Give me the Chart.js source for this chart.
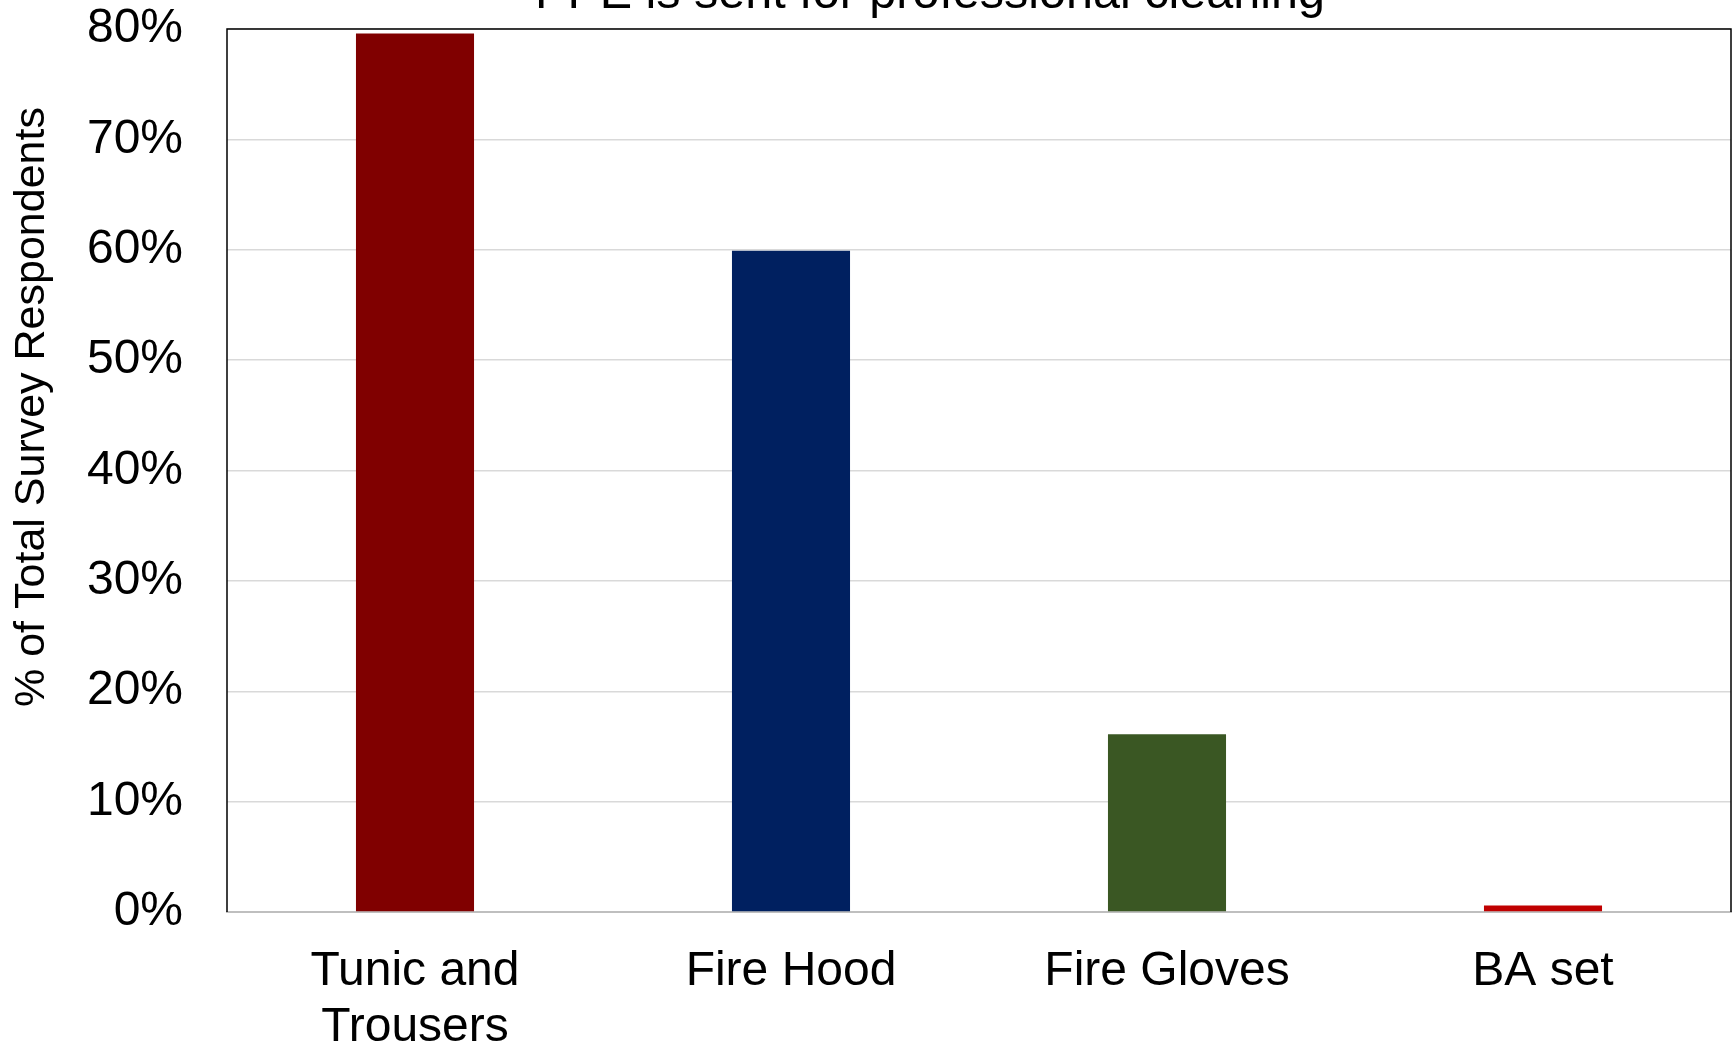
<!DOCTYPE html>
<html>
<head>
<meta charset="utf-8">
<title>PPE is sent for professional cleaning</title>
<script src="https://cdn.jsdelivr.net/npm/chart.js@4/dist/chart.umd.min.js"></script>
<style>
  html, body { margin: 0; padding: 0; background: #ffffff; }
  #wrap { width: 1736px; height: 1044px; }
</style>
</head>
<body>
<div id="wrap"><canvas id="chart" width="1736" height="1044"></canvas></div>
<script>
// Share of respondents whose PPE item is sent for professional cleaning
const categories = [["Tunic and", "Trousers"], "Fire Hood", "Fire Gloves", "BA set"];
const percentValues = [79.6, 59.9, 16.1, 0.6];
const barColors = ["#800000", "#002060", "#3A5723", "#C00000"];
const yTickValues = [0, 10, 20, 30, 40, 50, 60, 70, 80];

const chartTitle = "PPE is sent for professional cleaning";
const yAxisTitle = "% of Total Survey Respondents";
const FONT = "'Liberation Sans', Arial, Helvetica, sans-serif";

// Title, rotated axis title and the black frame around the plot
const decorations = {
  id: "decorations",
  afterDraw(chart) {
    const { ctx, chartArea: a } = chart;
    ctx.save();
    ctx.fillStyle = "#000000";
    ctx.font = "48.5px " + FONT;
    ctx.textAlign = "center";
    ctx.textBaseline = "alphabetic";
    ctx.fillText(chartTitle, 930, 8);

    ctx.save();
    ctx.translate(32, 407);
    ctx.rotate(-Math.PI / 2);
    ctx.font = "43px " + FONT;
    ctx.textBaseline = "middle";
    ctx.fillText(yAxisTitle, 0, 0);
    ctx.restore();

    ctx.strokeStyle = "#000000";
    ctx.lineWidth = 1.5;
    ctx.beginPath();
    ctx.moveTo(a.left, a.bottom);
    ctx.lineTo(a.left, a.top);
    ctx.lineTo(a.right, a.top);
    ctx.lineTo(a.right, a.bottom);
    ctx.stroke();
    ctx.restore();
  }
};

new Chart(document.getElementById("chart"), {
  type: "bar",
  data: {
    labels: categories,
    datasets: [{
      data: percentValues,
      backgroundColor: barColors,
      borderWidth: 0,
      categoryPercentage: 1.0,
      barPercentage: 0.314
    }]
  },
  options: {
    responsive: false,
    animation: false,
    devicePixelRatio: 1,
    layout: { padding: { top: 29, right: 5, bottom: 0, left: 0 } },
    plugins: {
      legend: { display: false },
      title: { display: false },
      tooltip: { enabled: false }
    },
    scales: {
      x: {
        grid: { display: false, drawTicks: false },
        border: { display: true, color: "#BFBFBF", width: 2 },
        ticks: {
          color: "#000000",
          font: { family: FONT, size: 48, lineHeight: 1.18 },
          padding: 31,
          maxRotation: 0,
          autoSkip: false
        },
        afterFit(scale) {
          scale.height = 132;
          scale.paddingLeft = 0;
          scale.paddingRight = 0;
        }
      },
      y: {
        min: 0,
        max: 80,
        afterBuildTicks(scale) { scale.ticks = yTickValues.map(v => ({ value: v })); },
        grid: { color: "#D9D9D9", lineWidth: 1.5, drawTicks: false },
        border: { display: false },
        ticks: {
          color: "#000000",
          font: { family: FONT, size: 48 },
          padding: 44,
          callback: v => v + "%"
        },
        afterFit(scale) {
          scale.width = 227;
          scale.paddingTop = 0;
          scale.paddingBottom = 0;
        }
      }
    }
  },
  plugins: [decorations]
});
</script>
</body>
</html>
